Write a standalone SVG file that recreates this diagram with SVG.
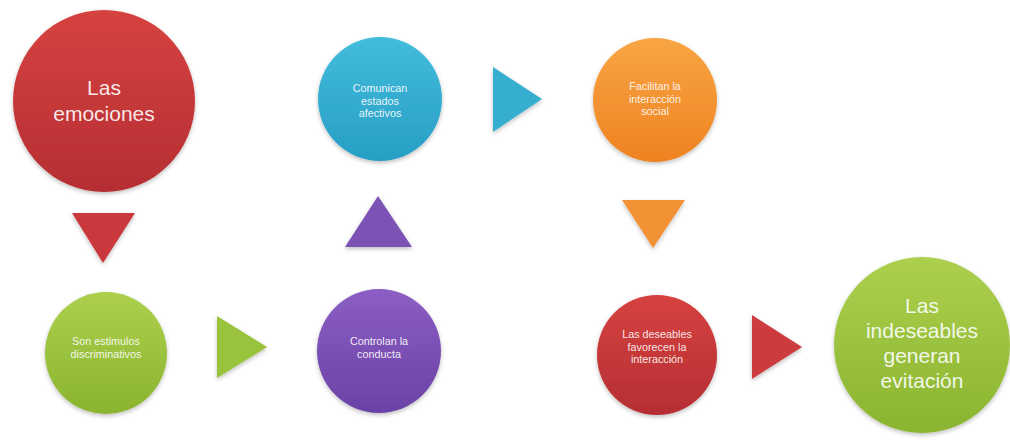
<svg xmlns="http://www.w3.org/2000/svg" width="1010" height="441" viewBox="0 0 1010 441">
<style>
.t{font-family:"Liberation Sans","Open Sans",sans-serif;fill:#fff;fill-opacity:0.9;text-anchor:middle}
.big{font-size:21px}
.sm{font-size:10.8px}
</style>
<defs>
<filter id="sh" x="-20%" y="-20%" width="140%" height="140%">
<feDropShadow dx="0" dy="2" stdDeviation="2" flood-color="#000" flood-opacity="0.25"/>
</filter>
<linearGradient id="gRed" x1="0" y1="0" x2="0" y2="1"><stop offset="0" stop-color="#d6423f"/><stop offset="1" stop-color="#b52e33"/></linearGradient>
<linearGradient id="gBlue" x1="0" y1="0" x2="0" y2="1"><stop offset="0" stop-color="#43bcdc"/><stop offset="1" stop-color="#279ec4"/></linearGradient>
<linearGradient id="gOrange" x1="0" y1="0" x2="0" y2="1"><stop offset="0" stop-color="#f9a544"/><stop offset="1" stop-color="#ee8221"/></linearGradient>
<linearGradient id="gGreen" x1="0" y1="0" x2="0" y2="1"><stop offset="0" stop-color="#acd04e"/><stop offset="1" stop-color="#8ab42f"/></linearGradient>
<linearGradient id="gPurple" x1="0" y1="0" x2="0" y2="1"><stop offset="0" stop-color="#8c5ec4"/><stop offset="1" stop-color="#6a42a6"/></linearGradient>
</defs>
<rect width="1010" height="441" fill="#fff"/>
<g id="connectors">
<polygon points="72,213 135,213 103,263" fill="#c9393d" filter="url(#sh)"/>
<polygon points="217,316 267,347 217,378" fill="#99c23c" filter="url(#sh)"/>
<polygon points="345,247 412,247 378,196" fill="#7b52b4" filter="url(#sh)"/>
<polygon points="493,67 542,99 493,132" fill="#36aed0" filter="url(#sh)"/>
<polygon points="622,200 685,200 653,248" fill="#f39234" filter="url(#sh)"/>
<polygon points="752,315 802,347 752,379" fill="#cc3a3e" filter="url(#sh)"/>
</g>
<g id="n1">
<circle cx="104" cy="101" r="91" fill="url(#gRed)" filter="url(#sh)"/>
<text class="t big" x="104" y="95">Las</text>
<text class="t big" x="104" y="121">emociones</text>
</g>
<g id="n2">
<circle cx="380" cy="99" r="62" fill="url(#gBlue)" filter="url(#sh)"/>
<text class="t sm" x="380" y="92">Comunican</text>
<text class="t sm" x="380" y="104.5">estados</text>
<text class="t sm" x="380" y="117">afectivos</text>
</g>
<g id="n3">
<circle cx="655" cy="100" r="62" fill="url(#gOrange)" filter="url(#sh)"/>
<text class="t sm" x="655" y="90">Facilitan la</text>
<text class="t sm" x="655" y="102.5">interacción</text>
<text class="t sm" x="655" y="115">social</text>
</g>
<g id="n4">
<circle cx="106" cy="353" r="61" fill="url(#gGreen)" filter="url(#sh)"/>
<text class="t sm" x="106" y="345">Son estimulos</text>
<text class="t sm" x="106" y="357.5">discriminativos</text>
</g>
<g id="n5">
<circle cx="379" cy="351" r="62" fill="url(#gPurple)" filter="url(#sh)"/>
<text class="t sm" x="379" y="345">Controlan la</text>
<text class="t sm" x="379" y="358">conducta</text>
</g>
<g id="n6">
<circle cx="657" cy="355" r="60" fill="url(#gRed)" filter="url(#sh)"/>
<text class="t sm" x="657" y="338">Las deseables</text>
<text class="t sm" x="657" y="350.5">favorecen la</text>
<text class="t sm" x="657" y="363">interacción</text>
</g>
<g id="n7">
<circle cx="922" cy="345" r="88" fill="url(#gGreen)" filter="url(#sh)"/>
<text class="t big" x="922" y="313">Las</text>
<text class="t big" x="922" y="338">indeseables</text>
<text class="t big" x="922" y="363">generan</text>
<text class="t big" x="922" y="388">evitación</text>
</g>
</svg>
